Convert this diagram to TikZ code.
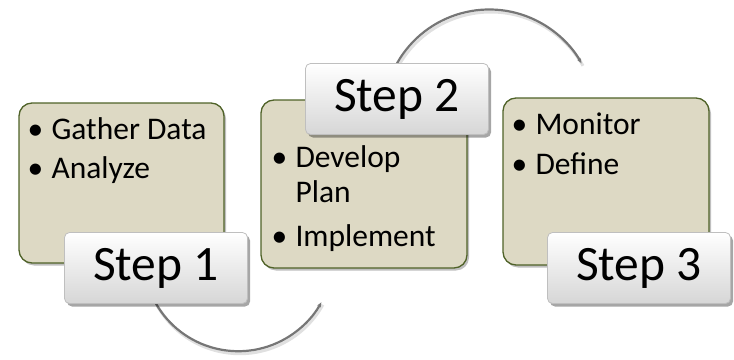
\documentclass[tikz,border=0pt]{standalone}
\usepackage{fontspec}
\setmainfont{Carlito}
\usetikzlibrary{shadows,arrows.meta}
\definecolor{boxfill}{HTML}{DDD9C4}
\definecolor{boxline}{HTML}{4F6228}
\definecolor{stepline}{HTML}{BFBFBF}
\definecolor{arcgray}{HTML}{767676}
\tikzset{
  greenbox/.style={draw=boxline, line width=1.3pt, fill=boxfill, rounded corners=13pt,
    inner sep=0pt, drop shadow={shadow xshift=2pt, shadow yshift=-2.5pt, opacity=0.25, fill=black}},
  stepbox/.style={draw=stepline, line width=0.8pt, top color=white, bottom color=black!16,
    rounded corners=5pt, inner sep=0pt, minimum width=183pt, minimum height=71pt,
    text height=36pt, text depth=11pt, font=\fontsize{49.5}{55}\selectfont,
    drop shadow={shadow xshift=2.5pt, shadow yshift=-3pt, opacity=0.35, fill=black}},
  itemtxt/.style={anchor=base west, inner sep=0pt, font=\fontsize{31.5}{36}\selectfont},
  cycarc/.style={draw=arcgray, line width=2.2pt, -{Stealth[length=5pt,width=4pt]}},
  cycshadow/.style={draw=black!12, line width=3pt},
}
\begin{document}
\begin{tikzpicture}[x=1pt,y=-1pt]
\useasboundingbox (0,0) rectangle (734,359);
% step boxes positions (nodes defined first invisibly for arcs)
\path (156,268) node[minimum width=183pt, minimum height=71pt, inner sep=0pt] (p1) {};
\path (397,99) node[minimum width=183pt, minimum height=71pt, inner sep=0pt] (p2) {};
% connectors (arcs)
\draw[cycshadow] ([shift={(1.5,2.5)}]p1.south) arc[start angle=210, end angle=331, radius=95pt];
\draw[cycarc] (p1.south) arc[start angle=210, end angle=331, radius=95pt] coordinate (e1);
\draw[cycshadow] ([shift={(1.5,2.5)}]p2.north) arc[start angle=150.5, end angle=29.5, radius=106pt];
\draw[cycarc] (p2.north) arc[start angle=150.5, end angle=29.5, radius=106pt] coordinate (e2);
% green boxes
\node[greenbox, minimum width=205pt, minimum height=160pt] (b1) at (121.5,183) {};
\node[greenbox, minimum width=206pt, minimum height=168pt] (b2) at (364,184) {};
\node[greenbox, minimum width=206pt, minimum height=167pt] (b3) at (606,181.5) {};
% items
\node[itemtxt] (i11) at ([shift={(9,37)}]b1.north west) {\makebox[24pt][l]{\textbullet}Gather Data};
\node[itemtxt] (i12) at ([shift={(9,76)}]b1.north west) {\makebox[24pt][l]{\textbullet}Analyze};
\node[itemtxt] (i21) at ([shift={(11,68)}]b2.north west) {\makebox[24pt][l]{\textbullet}Develop};
\node[itemtxt] (i22) at ([shift={(35,103)}]b2.north west) {Plan};
\node[itemtxt] (i23) at ([shift={(11,147)}]b2.north west) {\makebox[24pt][l]{\textbullet}Implement};
\node[itemtxt] (i31) at ([shift={(9,37)}]b3.north west) {\makebox[24pt][l]{\textbullet}Monitor};
\node[itemtxt] (i32) at ([shift={(9,77)}]b3.north west) {\makebox[24pt][l]{\textbullet}Define};
% step boxes
\node[stepbox] (s1) at (p1) {Step 1};
\node[stepbox] (s2) at (p2) {Step 2};
\node[stepbox] (s3) at (639,268) {Step 3};
\end{tikzpicture}
\end{document}
